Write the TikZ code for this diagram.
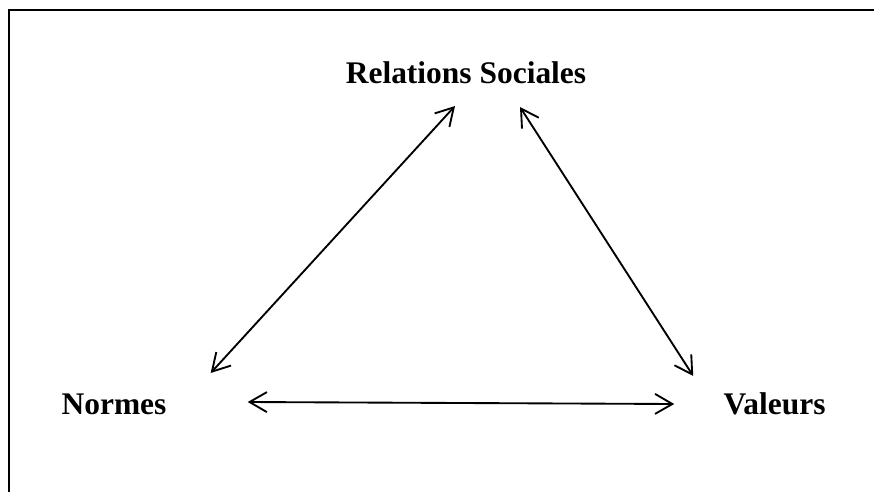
\documentclass[tikz,border=0pt]{standalone}
\usepackage{fontspec}
\setmainfont{Liberation Serif}
\usetikzlibrary{arrows.meta}

\begin{document}
\begin{tikzpicture}[x=0.75pt, y=-0.75pt,
    pole/.style={font=\fontsize{23.6}{28}\selectfont\bfseries, inner sep=0pt, anchor=base},
    lien/.style={{Straight Barb[length=13pt,width=15pt]}-{Straight Barb[length=13pt,width=15pt]},
                 line width=1.4pt},
    cadre/.style={line width=1.7pt}
]
\useasboundingbox (0,0) rectangle (874,492);
\draw[cadre] (874,10) -- (9,10) -- (9,492);
\node[pole] (R) at (466,84)    {Relations Sociales};
\node[pole] (N) at (114,414)   {Normes};
\node[pole] (V) at (774.5,414) {Valeurs};
\draw[lien] ([shift={(44,-41)}]N.base east) -- ([shift={(-11,22)}]R.base);
\draw[lien] ([shift={(54,23)}]R.base) -- ([shift={(-30,-38)}]V.base west);
\draw[lien] ([shift={(81,-12)}]N.base east) -- ([shift={(-49,-10)}]V.base west);
\end{tikzpicture}
\end{document}
